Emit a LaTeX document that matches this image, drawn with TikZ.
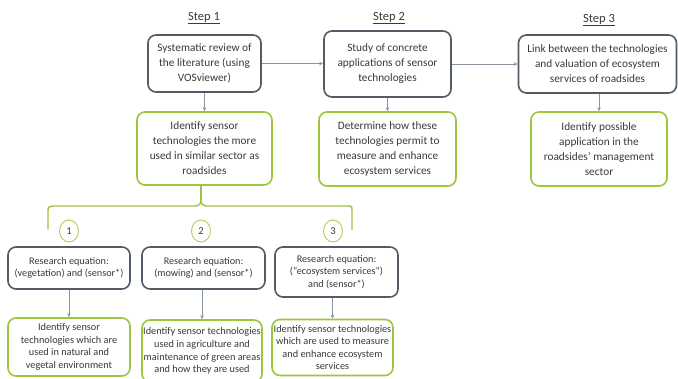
\documentclass[tikz,border=0pt]{standalone}
\usepackage{fontspec}
\setmainfont{Carlito}
\usetikzlibrary{arrows.meta,shapes.geometric}
\definecolor{dk}{HTML}{525C66}
\definecolor{gr}{HTML}{9DC63C}
\definecolor{ar}{HTML}{8A949E}
\definecolor{txt}{HTML}{3A3A3A}
\begin{document}
\begin{tikzpicture}[x=1pt,y=-1pt,
 dbox/.style={draw=dk,line width=1.6pt,rounded corners=8pt,align=center,inner sep=0pt,text=txt},
 gbox/.style={draw=gr,line width=1.6pt,rounded corners=8pt,align=center,inner sep=0pt,text=txt},
 big/.style={font=\fontsize{11.3}{15}\selectfont},
 small/.style={font=\fontsize{10.3}{12.6}\selectfont},
 eqf/.style={font=\fontsize{10.2}{12.2}\selectfont},
 arr/.style={draw=ar,line width=0.7pt,-{Stealth[length=4pt,width=3.5pt]}},
 num/.style={ellipse,draw=gr!85,line width=0.9pt,minimum width=19pt,minimum height=22pt,inner sep=0pt,font=\fontsize{10.5}{12}\selectfont,text=txt},
 steplbl/.style={font=\fontsize{12.5}{14}\selectfont,text=txt},
 bracepath/.style={draw=gr,line width=1.4pt}
]
\clip (0,0) rectangle (678,378);
\fill[white] (0,0) rectangle (678,378);

% step labels
\node[steplbl] (s1) at (204,18) {\underline{Step 1}};
\node[steplbl] (s2) at (389,18) {\underline{Step 2}};
\node[steplbl] (s3) at (599,20) {\underline{Step 3}};

% top row
\node[dbox,big,minimum width=113pt,minimum height=57pt] (A) at (204.5,63.5)
  {Systematic review of\\the literature (using\\VOSviewer)};
\node[dbox,big,minimum width=127pt,minimum height=66pt] (C) at (387.5,64)
  {Study of concrete\\applications of sensor\\technologies};
\node[dbox,big,minimum width=158pt,minimum height=58pt] (E) at (597.5,64)
  {Link between the technologies\\and valuation of ecosystem\\services of roadsides};

% second row
\node[gbox,big,minimum width=135pt,minimum height=73pt] (B) at (204.5,148.5)
  {Identify sensor\\technologies the more\\used in similar sector as\\roadsides};
\node[gbox,big,minimum width=137pt,minimum height=74pt] (D) at (387.5,149)
  {Determine how these\\technologies permit to\\measure and enhance\\ecosystem services};
\node[gbox,big,minimum width=136pt,minimum height=74pt] (F) at (599,149)
  {Identify possible\\application in the\\roadsides’ management\\sector};

% arrows top
\draw[arr] (A.east) -- (A.east -| C.west);
\draw[arr] (C.east |- E.west) -- (E.west);
\draw[arr] (A.south) -- (B.north);
\draw[arr] (C.south) -- (D.north);
\draw[arr] (E.south -| F.north) -- (F.north);

% brace
\coordinate (bl) at (48,229);
\coordinate (br) at (352,230);
\coordinate (st) at (201,200);
\draw[bracepath] (B.south -| st) -- (st);
\draw[bracepath] (bl) -- (48,212) .. controls (48,207) .. (53,206) -- (195,206)
  .. controls (199,206) and (201,204) .. (st)
  .. controls (201,204) and (203,206) .. (207,206) -- (347,206)
  .. controls (352,206) .. (352,211) -- (br);

% numbers
\node[num] (n1) at (69,231) {1};
\node[num] (n2) at (201,231) {2};
\node[num] (n3) at (333,231) {3};

% research equation boxes
\node[dbox,eqf,minimum width=122pt,minimum height=42pt] (G) at (69,268)
  {Research equation:\\(vegetation) and (sensor*)};
\node[dbox,eqf,minimum width=123pt,minimum height=42pt] (H) at (203.5,268)
  {Research equation:\\(mowing) and (sensor*)};
\node[dbox,eqf,minimum width=123pt,minimum height=50pt] (I) at (336.5,272)
  {Research equation:\\(“ecosystem services”)\\and (sensor*)};

% bottom boxes
\node[gbox,small,minimum width=122pt,minimum height=58pt] (J) at (69,347)
  {Identify sensor\\technologies which are\\used in natural and\\vegetal environment};
\node[gbox,small,minimum width=120pt,minimum height=62pt] (K) at (202,351)
  {Identify sensor technologies\\used in agriculture and\\maintenance of green areas\\and how they are used};
\node[gbox,small,minimum width=121pt,minimum height=56pt] (L) at (332.5,347.5)
  {Identify sensor technologies\\which are used to measure\\and enhance ecosystem\\services};

% arrows bottom
\draw[arr] (G.south) -- (J.north);
\draw[arr] (H.south -| K.north) -- (K.north);
\draw[arr] (I.south -| L.north) -- (L.north);
\end{tikzpicture}
\end{document}
